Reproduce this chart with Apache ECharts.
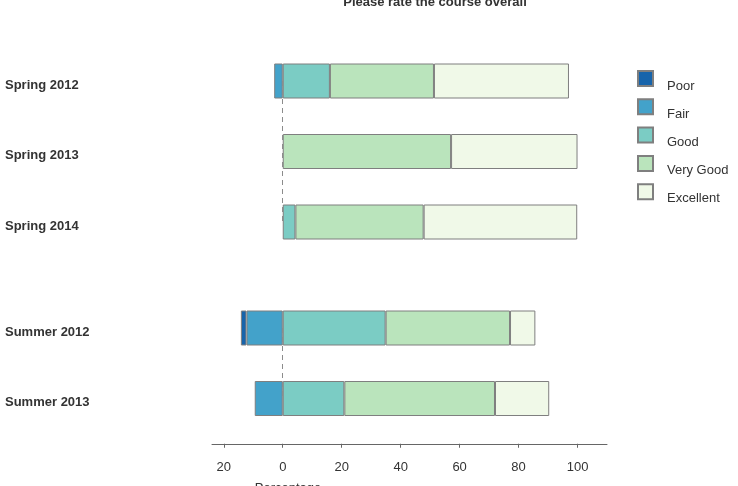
<!DOCTYPE html>
<html>
<head>
<meta charset="utf-8">
<title>Please rate the course overall</title>
<script src="https://cdn.jsdelivr.net/npm/echarts@6/dist/echarts.min.js"></script>
<style>
  html, body { margin: 0; padding: 0; background: #fff; }
  #chart { width: 738px; height: 486px; }
</style>
</head>
<body>
<div id="chart"></div>
<script>
// terms, grouped into two panels
const springTerms = ['Spring 2012', 'Spring 2013', 'Spring 2014']
const summerTerms = ['Summer 2012', 'Summer 2013']
const ratings = ['Poor', 'Fair', 'Good', 'Very Good', 'Excellent']
const tickValues = [-20, 0, 20, 40, 60, 80, 100]

// percentages of responses (Poor / Fair are drawn left of zero)
const springPoor = [0, 0, 0]
const springFair = [2.9, 0, 0]
const springGood = [16.0, 0, 4.3]
const springVeryGood = [35.3, 57.1, 43.5]
const springExcellent = [45.8, 42.9, 52.1]

const summerPoor = [1.9, 0]
const summerFair = [12.3, 9.5]
const summerGood = [34.9, 20.9]
const summerVeryGood = [42.2, 51.1]
const summerExcellent = [8.6, 18.4]

const colors = {
  'Poor': '#1764ab',
  'Fair': '#43a2ca',
  'Good': '#7bccc4',
  'Very Good': '#bae4bc',
  'Excellent': '#f0f9e8'
}

const font = 'Liberation Sans, Arial, Helvetica, sans-serif'

function makeSeries (name, values, idx, negative) {
  return {
    name: name,
    type: 'bar',
    stack: 'panel' + idx,
    xAxisIndex: idx,
    yAxisIndex: idx,
    barWidth: 35,
    itemStyle: { color: colors[name], borderColor: '#7f7f7f', borderWidth: 1 },
    emphasis: { disabled: true },
    data: values.map(v => (v === 0 ? '-' : (negative ? -v : v)))
  }
}

function zeroLine (terms) {
  return {
    silent: true,
    symbol: 'none',
    label: { show: false },
    lineStyle: { color: '#8c8c8c', type: [5, 4], width: 1 },
    data: [[{ coord: [0, terms[0]] }, { coord: [0, terms[terms.length - 1]] }]]
  }
}

function panelSeries (idx, terms, poor, fair, good, veryGood, excellent) {
  // Fair goes first so it sits next to zero, Poor stacks beyond it
  const fairS = makeSeries('Fair', fair, idx, true)
  fairS.markLine = zeroLine(terms)
  return [
    fairS,
    makeSeries('Poor', poor, idx, true),
    makeSeries('Good', good, idx, false),
    makeSeries('Very Good', veryGood, idx, false),
    makeSeries('Excellent', excellent, idx, false)
  ]
}

function xAxisCfg (idx, visible) {
  return {
    type: 'value',
    gridIndex: idx,
    min: -24,
    max: 110,
    splitLine: { show: false },
    axisLine: { show: visible, lineStyle: { color: '#666', width: 1 } },
    axisTick: { show: visible, length: 4, customValues: tickValues, lineStyle: { color: '#666' } },
    axisLabel: {
      show: visible,
      customValues: tickValues,
      margin: 17,
      color: '#333',
      fontSize: 13,
      fontFamily: font,
      formatter: v => Math.abs(v)
    },
    offset: visible ? 10 : 0
  }
}

function yAxisCfg (idx, terms) {
  return {
    type: 'category',
    gridIndex: idx,
    data: terms,
    inverse: true,
    axisLine: { show: false },
    axisTick: { show: false },
    axisLabel: {
      align: 'left',
      verticalAlign: 'top',
      lineHeight: 8,
      margin: 207,
      color: '#333',
      fontSize: 13,
      fontWeight: 'bold',
      fontFamily: font
    }
  }
}

// legend: boxes and names placed separately (names sit at the box's lower edge)
const legendBase = {
  data: ratings,
  orient: 'vertical',
  padding: 0,
  selectedMode: false
}

const chart = echarts.init(document.getElementById('chart'))

chart.setOption({
  animation: false,
  backgroundColor: '#fff',
  title: [
    {
      text: 'Please rate the course overall',
      left: 430,
      top: -9,
      textAlign: 'center',
      textStyle: { fontSize: 13, fontWeight: 'bold', color: '#333', fontFamily: font }
    },
    {
      text: 'Percentage',
      left: 283,
      top: 477,
      textAlign: 'center',
      textStyle: { fontSize: 13, fontWeight: 'normal', color: '#333', fontFamily: font }
    }
  ],
  legend: [
    Object.assign({}, legendBase, {
      left: 637,
      top: 70,
      icon: 'rect',
      itemWidth: 15,
      itemHeight: 15,
      itemGap: 11.3,
      formatter: () => '',
      textStyle: { fontSize: 1 }
    }),
    Object.assign({}, legendBase, {
      left: 662,
      top: 79,
      icon: 'none',
      itemWidth: 0,
      itemHeight: 14,
      itemGap: 14.2,
      textStyle: { color: '#333', fontSize: 13, lineHeight: 14, fontFamily: font }
    })
  ],
  grid: [
    { left: 212, right: 131, top: 45.75, height: 211.5 },
    { left: 212, right: 131, top: 292.75, height: 141 }
  ],
  xAxis: [xAxisCfg(0, false), xAxisCfg(1, true)],
  yAxis: [yAxisCfg(0, springTerms), yAxisCfg(1, summerTerms)],
  series: [
    ...panelSeries(0, springTerms, springPoor, springFair, springGood, springVeryGood, springExcellent),
    ...panelSeries(1, summerTerms, summerPoor, summerFair, summerGood, summerVeryGood, summerExcellent)
  ]
})
</script>
</body>
</html>
